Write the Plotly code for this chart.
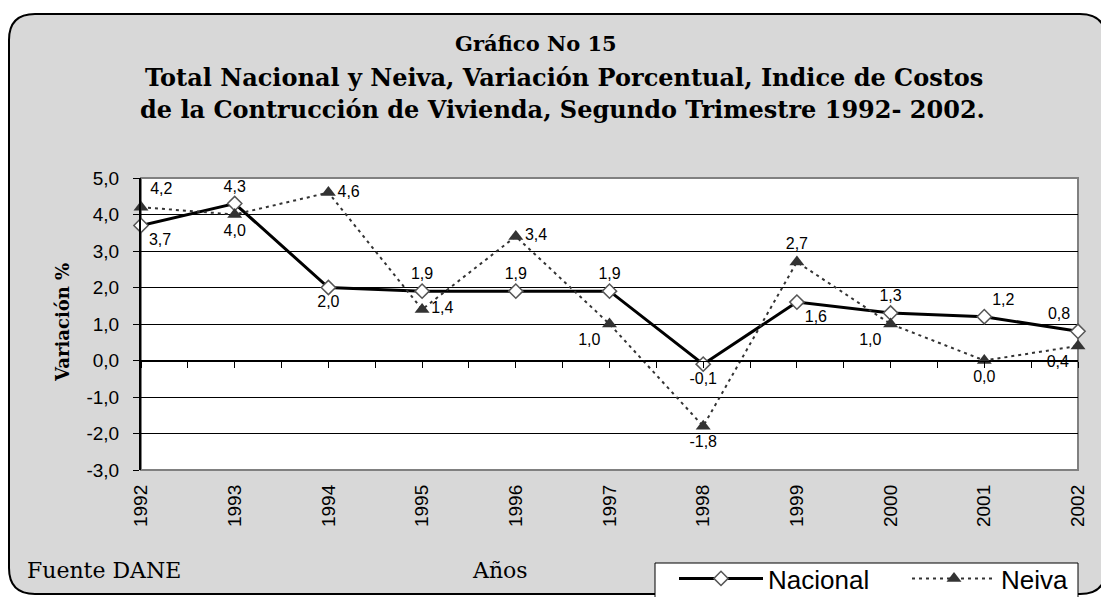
import plotly.graph_objects as go

years = [1992, 1993, 1994, 1995, 1996, 1997, 1998, 1999, 2000, 2001, 2002]
nacional = [3.7, 4.3, 2.0, 1.9, 1.9, 1.9, -0.1, 1.6, 1.3, 1.2, 0.8]
neiva = [4.2, 4.0, 4.6, 1.4, 3.4, 1.0, -1.8, 2.7, 1.0, 0.0, 0.4]
ytick_vals = [5, 4, 3, 2, 1, 0, -1, -2, -3]
ytick_text = ["5,0", "4,0", "3,0", "2,0", "1,0", "0,0", "-1,0", "-2,0", "-3,0"]

pos_nac = ["bottom right", "top center", "bottom center", "top center", "top center",
           "top center", "bottom center", "bottom right", "top center", "top right", "top left"]
pos_nei = ["top right", "bottom center", "middle right", "middle right", "middle right",
           "bottom left", "bottom center", "top center", "bottom left", "bottom center", "bottom left"]

def fmt(v):
    return f"{v:.1f}".replace(".", ",")

# page puts the plot 8px in from the corner, so the figure is 8px smaller
OFF = 8
W, H = 1109 - OFF, 597 - OFF
# plot area in page pixels
PL, PR, PT, PB = 141, 1078, 178, 470
pw, ph = PR - PL, PB - PT

def px_x(x):
    return (x - PL) / pw

def px_y(y):
    return (PB - y) / ph

fig = go.Figure()
fig.add_trace(go.Scatter(
    x=years, y=nacional, name="Nacional", mode="lines+markers+text", legend="legend",
    line=dict(color="black", width=3),
    marker=dict(symbol="diamond", size=11, color="white", line=dict(color="#555", width=1.5)),
    text=[fmt(v) for v in nacional], textposition=pos_nac,
    textfont=dict(family="Liberation Sans", size=16, color="black"),
    cliponaxis=False,
))
fig.add_trace(go.Scatter(
    x=years, y=neiva, name="Neiva", mode="lines+markers+text", xaxis="x2", legend="legend2",
    line=dict(color="#333", width=2, dash="3px,4px"),
    marker=dict(symbol="triangle-up", size=13, color="#333"),
    text=[fmt(v) for v in neiva], textposition=pos_nei,
    textfont=dict(family="Liberation Sans", size=16, color="black"),
    cliponaxis=False,
))

# rounded background panel
x0, x1, y0, y1, r = 9, 1106, 14, 594, 26
path = (f"M {px_x(x0+r)},{px_y(y0)} L {px_x(x1-r)},{px_y(y0)} "
        f"Q {px_x(x1)},{px_y(y0)} {px_x(x1)},{px_y(y0+r)} "
        f"L {px_x(x1)},{px_y(y1-r)} Q {px_x(x1)},{px_y(y1)} {px_x(x1-r)},{px_y(y1)} "
        f"L {px_x(x0+r)},{px_y(y1)} Q {px_x(x0)},{px_y(y1)} {px_x(x0)},{px_y(y1-r)} "
        f"L {px_x(x0)},{px_y(y0+r)} Q {px_x(x0)},{px_y(y0)} {px_x(x0+r)},{px_y(y0)} Z")
fig.add_shape(type="path", path=path, xref="paper", yref="paper", layer="below",
              fillcolor="#d8d8d8", line=dict(color="black", width=2))
fig.add_shape(type="rect", xref="x domain", yref="y domain", x0=0, x1=1, y0=0, y1=1,
              layer="below", fillcolor="white", line=dict(color="#808080", width=2))
# legend frame
fig.add_shape(type="rect", xref="paper", yref="paper", x0=px_x(655), x1=px_x(1078),
              y0=px_y(605), y1=px_y(563), layer="above", fillcolor="white",
              line=dict(color="black", width=1))

serif = "DejaVu Serif"
titles = [("<b>Gráfico No 15</b>", 536, 44, 21),
          ("<b>Total Nacional y Neiva, Variación Porcentual, Indice de Costos</b>", 564, 78, 24),
          ("<b>de la Contrucción de Vivienda, Segundo Trimestre 1992- 2002.</b>", 562, 110, 24)]
for txt, cx, cy, sz in titles:
    fig.add_annotation(text=txt, x=px_x(cx), y=px_y(cy), xref="paper", yref="paper",
                       showarrow=False, xanchor="center", yanchor="middle",
                       font=dict(family=serif, size=sz, color="black"))

fig.add_annotation(text="<b>Variación %</b>", x=px_x(62), y=px_y(323), xref="paper", yref="paper",
                   showarrow=False, textangle=-90, xanchor="center", yanchor="middle",
                   font=dict(family=serif, size=18, color="black"))
fig.add_annotation(text="Fuente DANE", x=px_x(25), y=px_y(570), xref="paper", yref="paper",
                   showarrow=False, xanchor="left", yanchor="middle",
                   font=dict(family=serif, size=22, color="black"))
fig.add_annotation(text="Años", x=px_x(470), y=px_y(570), xref="paper", yref="paper",
                   showarrow=False, xanchor="left", yanchor="middle",
                   font=dict(family=serif, size=22, color="black"))

leg_font = dict(family="Liberation Sans", size=26, color="black")
fig.update_layout(
    width=W, height=H,
    margin=dict(l=PL - OFF, r=W - (PR - OFF), t=PT - OFF, b=H - (PB - OFF), autoexpand=False),
    paper_bgcolor="white", plot_bgcolor="rgba(0,0,0,0)",
    font=dict(family="Liberation Sans", color="black"),
    xaxis=dict(range=[1992, 2002], tickvals=years, tickangle=-90, showgrid=False,
               zeroline=False, showline=False, ticks="", ticklabelstandoff=10,
               tickfont=dict(family="Liberation Sans", size=19)),
    xaxis2=dict(range=[1992, 2002], overlaying="x", anchor="free", position=3 / 8,
                showgrid=False, zeroline=False, showline=True, linecolor="black", linewidth=1,
                ticks="outside", tickmode="linear", tick0=1992, dtick=0.5, ticklen=6,
                tickcolor="black", showticklabels=False),
    yaxis=dict(range=[-3, 5], tickvals=ytick_vals, ticktext=ytick_text, showgrid=True,
               gridcolor="black", gridwidth=1, zeroline=False, showline=True,
               linecolor="black", linewidth=2, ticks="outside", ticklen=6, tickcolor="black",
               ticklabelstandoff=10, tickfont=dict(family="Liberation Sans", size=19)),
    showlegend=True,
    legend=dict(orientation="h", x=px_x(674), xanchor="left", y=px_y(555), yanchor="top",
                bgcolor="rgba(0,0,0,0)", borderwidth=0, itemwidth=84, font=leg_font),
    legend2=dict(orientation="h", x=px_x(907), xanchor="left", y=px_y(555), yanchor="top",
                 bgcolor="rgba(0,0,0,0)", borderwidth=0, itemwidth=84, font=leg_font),
)

fig.write_html("out.html")
